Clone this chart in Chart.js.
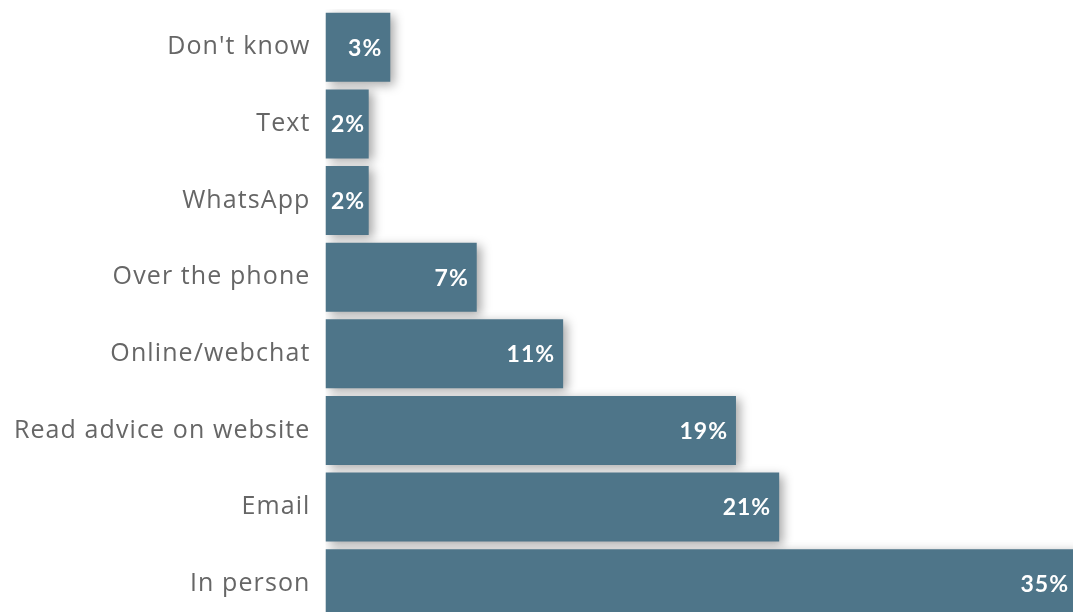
<!DOCTYPE html>
<html>
<head>
<meta charset="utf-8">
<script src="https://cdn.jsdelivr.net/npm/chart.js@4.4.1/dist/chart.umd.min.js"></script>
<style>
  html, body { margin: 0; padding: 0; background: #fff; overflow: hidden; }
  #wrap { width: 1073px; height: 630px; position: relative; }
</style>
</head>
<body>
<div id="wrap"><canvas id="channel-chart"></canvas></div>
<script>
var channels = ["Don't know", "Text", "WhatsApp", "Over the phone", "Online/webchat", "Read advice on website", "Email", "In person"];
var shares = [3, 2, 2, 7, 11, 19, 21, 35];
var valueLabels = ["3%", "2%", "2%", "7%", "11%", "19%", "21%", "35%"];

var barColour = "#4e7589";

// looser tracking for the category labels
var labelSpacing = {
  id: "labelSpacing",
  beforeDraw: function (chart) {
    chart.ctx.letterSpacing = "1.1px";
  },
  beforeDatasetsDraw: function (chart) {
    chart.ctx.letterSpacing = "0px";
  },
};

// soft drop shadow behind the bars
var barShadow = {
  id: "barShadow",
  beforeDatasetsDraw: function (chart) {
    var c = chart.ctx;
    c.save();
    c.shadowColor = "rgba(0, 0, 0, 0.35)";
    c.shadowBlur = 10;
    c.shadowOffsetX = 4;
    c.shadowOffsetY = 3;
  },
  afterDatasetsDraw: function (chart) {
    chart.ctx.restore();
  },
};

// white percentage at the end of each bar
var valueText = {
  id: "valueText",
  afterDatasetsDraw: function (chart) {
    var c = chart.ctx;
    var area = chart.chartArea;
    var meta = chart.getDatasetMeta(0);
    c.save();
    c.letterSpacing = "1px";
    c.font = "bold 23px Lato";
    c.fillStyle = "#ffffff";
    c.textBaseline = "middle";
    meta.data.forEach(function (bar, i) {
      var txt = valueLabels[i];
      var w = c.measureText(txt).width;
      var left = bar.base;
      var right = Math.min(bar.x - 8, area.right - 4);
      if (right - w < left + 4) {
        c.textAlign = "center";
        c.fillText(txt, (left + Math.min(bar.x, area.right)) / 2 + 1, bar.y + 1);
      } else {
        c.textAlign = "right";
        c.fillText(txt, right, bar.y + 1);
      }
    });
    c.restore();
  },
};

var ctx = document.getElementById("channel-chart").getContext("2d");
var chart = new Chart(ctx, {
  type: "bar",
  data: {
    labels: channels,
    datasets: [
      {
        data: shares,
        backgroundColor: barColour,
        borderWidth: 0,
        barPercentage: 0.9,
        categoryPercentage: 1.0,
      },
    ],
  },
  options: {
    indexAxis: "y",
    responsive: true,
    maintainAspectRatio: false,
    animation: false,
    layout: { padding: { top: 9, bottom: 8, left: 0, right: 0 } },
    plugins: {
      legend: { display: false },
      tooltip: { enabled: false },
    },
    scales: {
      x: {
        display: false,
        min: 0,
        max: 34.6,
      },
      y: {
        grid: { display: false, drawTicks: false },
        border: { display: false },
        ticks: {
          color: "#666666",
          font: { family: "Open Sans", size: 25 },
          padding: 15,
        },
        afterFit: function (scale) {
          // fixed label column; no extra room above/below the bands
          scale.width = 325.5;
          scale.paddingTop = 0;
          scale.paddingBottom = 0;
        },
      },
    },
  },
  plugins: [labelSpacing, barShadow, valueText],
});
</script>
</body>
</html>
